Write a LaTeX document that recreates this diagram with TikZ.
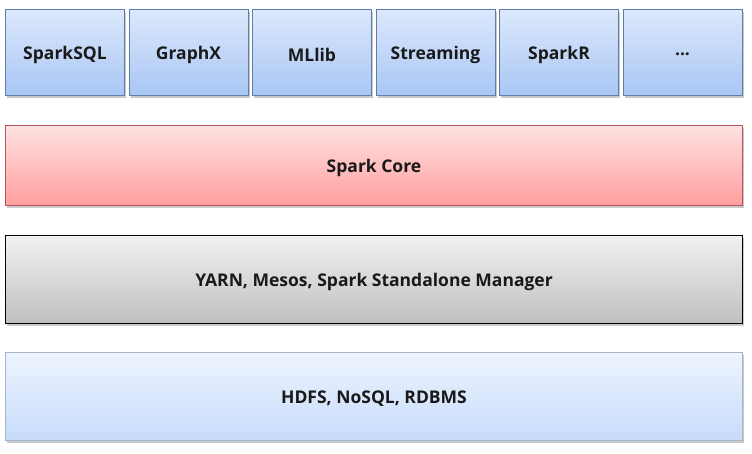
\documentclass[tikz,border=0pt]{standalone}
\usepackage{fontspec}
\setmainfont{Open Sans}
\usetikzlibrary{shadows}
\definecolor{bluetop}{HTML}{DCE8FC}
\definecolor{bluebot}{HTML}{A8C6F4}
\definecolor{blueedge}{HTML}{5E7EAA}
\definecolor{redtop}{HTML}{FFE2E2}
\definecolor{redbot}{HTML}{FF9E9E}
\definecolor{rededge}{HTML}{B5545E}
\definecolor{graytop}{HTML}{F2F2F2}
\definecolor{graybot}{HTML}{BFBFBF}
\definecolor{ltop}{HTML}{EEF4FE}
\definecolor{lbot}{HTML}{C6DBFA}
\definecolor{ledge}{HTML}{A4B4CA}
\newcommand{\lowtext}[1]{\raisebox{-2pt}[\height][\depth]{#1}}
\tikzset{
  layer/.style={draw, line width=1pt, anchor=north west, inner sep=0pt,
    font=\fontsize{17.5}{20}\selectfont\bfseries, text=black!90,
    drop shadow={shadow xshift=1.5pt, shadow yshift=-2pt, opacity=0.35, fill=black!60}},
  modbox/.style={layer, draw=blueedge, top color=bluetop, bottom color=bluebot,
    minimum width=119pt, minimum height=86pt},
  corebox/.style={layer, draw=rededge, top color=redtop, bottom color=redbot,
    minimum width=737pt, minimum height=80pt},
  mgrbox/.style={layer, draw=black, top color=graytop, bottom color=graybot,
    minimum width=737pt, minimum height=88pt},
  storebox/.style={layer, draw=ledge, top color=ltop, bottom color=lbot,
    minimum width=737pt, minimum height=88pt}
}
\begin{document}
\begin{tikzpicture}[x=1pt, y=-1pt]
\useasboundingbox[fill=white] (0,0) rectangle (752,453);
\node[modbox] (sql) at (5,9) {\lowtext{SparkSQL}};
\node[modbox] (graphx) at (128.5,9) {\lowtext{GraphX}};
\node[modbox] (mllib) at (252,9) {\lowtext{MLlib}};
\node[modbox] (stream) at (375.5,9) {\lowtext{Streaming}};
\node[modbox] (sparkr) at (499,9) {\lowtext{SparkR}};
\node[modbox] (more) at (622.5,9) {\lowtext{...}};
\node[corebox] (core) at (5,125) {\lowtext{Spark Core}};
\node[mgrbox] (mgr) at (5,235) {\lowtext{YARN, Mesos, Spark Standalone Manager}};
\node[storebox] (store) at (5,352) {\lowtext{HDFS, NoSQL, RDBMS}};
\end{tikzpicture}
\end{document}
